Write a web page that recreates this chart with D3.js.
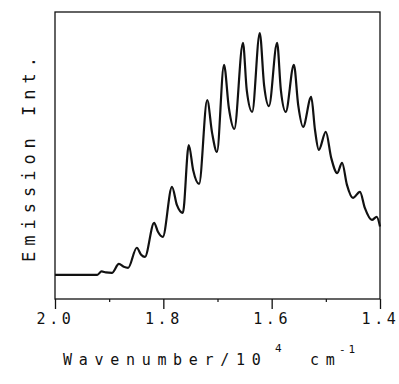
<!DOCTYPE html>
<html>
<head>
<meta charset="utf-8">
<script src="https://cdn.jsdelivr.net/npm/d3@7"></script>
<style>
  body { margin: 0; background: #fff; }
  text { font-family: "DejaVu Sans Mono", monospace; fill: #111; }
</style>
</head>
<body>
<div class="chart"></div>
<script>
// emission spectrum (arbitrary units, baseline = 0)
const wavenumber = [2.000, 1.922, 1.914, 1.906, 1.895, 1.882, 1.873, 1.865, 1.849, 1.841, 1.834,
  1.817, 1.810, 1.801, 1.784, 1.775, 1.764, 1.753, 1.745, 1.734, 1.719, 1.710, 1.701,
  1.688, 1.679, 1.669, 1.653, 1.646, 1.636, 1.622, 1.614, 1.605, 1.590, 1.583, 1.574,
  1.559, 1.551, 1.542, 1.527, 1.520, 1.513, 1.500, 1.490, 1.479, 1.470, 1.461, 1.450,
  1.437, 1.428, 1.415, 1.406, 1.400];
const intensity = [0.000, 0.000, 0.014, 0.010, 0.008, 0.045, 0.033, 0.029, 0.112, 0.083, 0.074,
  0.215, 0.178, 0.157, 0.364, 0.289, 0.256, 0.537, 0.434, 0.376, 0.723, 0.587, 0.508,
  0.868, 0.690, 0.603, 0.959, 0.764, 0.674, 1.000, 0.785, 0.698, 0.959, 0.764, 0.674,
  0.868, 0.702, 0.612, 0.736, 0.599, 0.517, 0.591, 0.483, 0.421, 0.463, 0.372, 0.318,
  0.343, 0.277, 0.227, 0.240, 0.200];
const majorTicks = [2.0, 1.8, 1.6, 1.4];
const minorTicks = [1.9, 1.7, 1.5];

const width = 399, height = 384;
const margin = {top: 12, right: 19, bottom: 85, left: 55};
const plotW = width - margin.left - margin.right,
      plotH = height - margin.top - margin.bottom;

const svg = d3.select(".chart").append("svg")
    .attr("width", width)
    .attr("height", height);

const g = svg.append("g")
    .attr("transform", "translate(" + margin.left + "," + margin.top + ")");

const x = d3.scaleLinear().domain([2.0, 1.4]).range([0, plotW]);
const y = d3.scaleLinear().domain([-0.1, 1.087]).range([plotH, 0]);

// frame
g.append("rect")
    .attr("width", plotW)
    .attr("height", plotH)
    .attr("fill", "none")
    .attr("stroke", "#111")
    .attr("stroke-width", 1.3);

// major ticks with labels
const xAxis = d3.axisBottom(x)
    .tickValues(majorTicks)
    .tickSize(10)
    .tickPadding(4)
    .tickFormat(d3.format(".1f"));

const ax = g.append("g")
    .attr("transform", "translate(0," + plotH + ")")
    .call(xAxis);
ax.select(".domain").remove();
ax.selectAll("line").attr("stroke", "#111").attr("stroke-width", 1.3);
ax.selectAll("text")
    .style("font-family", "'DejaVu Sans Mono', monospace")
    .style("font-size", "15px")
    .style("letter-spacing", "3.6px")
    .attr("fill", "#111");

// minor ticks
const minorAxis = d3.axisBottom(x)
    .tickValues(minorTicks)
    .tickSize(3)
    .tickFormat("");
const mx = g.append("g")
    .attr("transform", "translate(0," + plotH + ")")
    .call(minorAxis);
mx.select(".domain").remove();
mx.selectAll("line").attr("stroke", "#111").attr("stroke-width", 1.2);

// spectrum
const pts = wavenumber.map((w, i) => [x(w), y(intensity[i])]);
const line = d3.line().curve(d3.curveMonotoneX);
g.append("path")
    .attr("d", line(pts))
    .attr("fill", "none")
    .attr("stroke", "#111")
    .attr("stroke-width", 2.2)
    .attr("stroke-linejoin", "round");

// x axis title
const xt = svg.append("text")
    .attr("x", 63)
    .attr("y", 365)
    .style("font-size", "15px")
    .style("letter-spacing", "6.7px");
xt.append("tspan").text("Wavenumber/10");
xt.append("tspan").attr("x", 275).attr("dy", -13).style("font-size", "11px").style("letter-spacing", "0px").text("4");
xt.append("tspan").attr("x", 310).attr("dy", 13).text("cm");
xt.append("tspan").attr("x", 339).attr("dy", -12).style("font-size", "11px").style("letter-spacing", "3px").text("-1");

// y axis title
svg.append("text")
    .attr("transform", "translate(35," + (margin.top + plotH / 2 + 1) + ") rotate(-90)")
    .attr("text-anchor", "middle")
    .style("font-size", "17px")
    .style("letter-spacing", "6px")
    .text("Emission Int.");
</script>
</body>
</html>
